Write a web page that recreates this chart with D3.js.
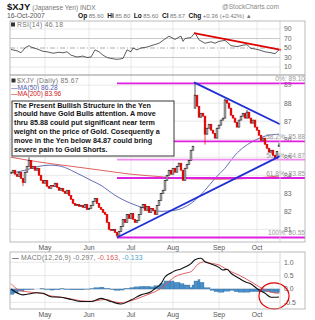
<!DOCTYPE html>
<html><head><meta charset="utf-8">
<script src="https://cdn.jsdelivr.net/npm/d3@7"></script>
<style>body{margin:0;background:#fff;} text{font-family:"Liberation Sans",Arial,sans-serif;}</style>
</head><body><svg id="c" width="315" height="320"></svg>
<script>
// ---------- DATA ----------
const startDate = "2007-04-05", endDate = "2007-10-16";
const holidays = ["2007-04-06","2007-05-28","2007-07-04","2007-09-03"];
const monthTicks = ["2007-05-01","2007-06-01","2007-07-02","2007-08-01","2007-09-04","2007-10-01"];
const monthLabels = ["May","Jun","Jul","Aug","Sep","Oct"];
// daily closes (trading day 0 .. 134)
const closes = [
84.17,84.28,84.06,83.94,84.17,83.83,83.61,84.17,84.50,84.83,
84.39,84.50,84.28,84.39,84.00,83.72,83.56,83.72,83.39,83.28,
83.44,83.39,83.56,83.33,83.17,83.28,83.11,83.00,83.17,82.89,
82.67,82.44,82.33,82.39,82.28,82.33,82.22,82.39,82.11,82.17,
82.33,82.56,82.72,82.44,82.22,82.11,81.94,81.83,81.39,81.00,
80.94,81.00,80.83,80.67,80.89,81.17,81.56,81.39,81.83,81.61,
81.89,81.56,81.39,81.50,81.83,82.22,82.39,82.06,82.28,81.94,
82.17,82.06,81.83,82.33,82.61,83.00,83.17,83.72,84.00,84.28,
84.06,84.39,84.17,84.50,84.67,84.28,83.72,84.39,84.61,84.83,
85.39,85.61,88.44,87.83,87.22,87.44,87.28,86.28,86.61,86.83,
86.50,86.33,86.06,86.61,86.78,87.06,87.17,88.17,88.00,87.72,
87.33,87.17,86.94,86.67,87.06,87.28,87.44,87.17,87.50,87.17,
86.89,87.06,86.67,86.50,86.22,85.94,86.06,85.72,85.50,85.28,
85.39,85.11,84.94,85.31,85.67];
const gapOpens = [[92,87.72],[134,85.60]];
const wickHighs = [[9,85.00],[92,89.10],[107,88.25],[118,87.62],[134,85.80]];
const wickLows = [[6,83.40],[53,80.55],[97,85.70],[134,85.60]];
const ma50 = [[0,84.11],[7,84.28],[14,84.5],[20,84.56],[25,84.5],[32,84.17],[40,83.72],[45,83.44],[52,82.89],[60,82.44],[67,82.17],[75,82.0],[82,82.06],[90,82.44],[97,83.17],[102,83.83],[107,84.39],[112,85.11],[117,85.61],[122,85.94],[127,86.17],[134,86.28]];
const ma200 = [[0,85.0],[15,84.72],[30,84.5],[45,84.28],[60,84.06],[75,83.92],[90,83.8],[105,83.78],[120,83.83],[134,83.96]];
const rsi = [[0,47],[3,44],[5,40],[7,50],[9,55],[10,52],[13,48],[16,43],[18,42],[21,39],[24,41],[26,40],[28,42],[30,35],[33,31],[36,33],[38,30],[40,31],[42,46],[44,42],[46,35],[48,30],[50,28],[53,26],[56,28],[58,46],[60,42],[61,50],[63,46],[65,50],[68,52],[71,56],[74,60],[76,66],[79,75],[82,68],[84,73],[85,75],[86,64],[87,70],[90,72],[92,82],[94,67],[97,60],[100,63],[102,60],[104,64],[107,66],[110,55],[113,53],[116,56],[118,57],[120,49],[122,48],[124,46],[127,42],[130,40],[132,38],[133,42],[134,46.18]];
const macd = [[0,0.0],[6,-0.22],[13,-0.14],[16,-0.16],[20,-0.29],[25,-0.31],[30,-0.39],[35,-0.47],[40,-0.47],[45,-0.35],[50,-0.47],[55,-0.56],[60,-0.41],[65,-0.22],[70,-0.10],[72,0.02],[75,0.2],[77,0.45],[80,0.6],[82,0.68],[85,0.75],[87,0.82],[90,0.95],[92,1.1],[95,1.15],[97,1.02],[100,0.94],[104,0.81],[106,0.71],[108,0.74],[110,0.59],[114,0.40],[117,0.27],[120,0.19],[124,-0.04],[127,-0.16],[130,-0.31],[132,-0.31],[134,-0.297]];
const signal = [[0,0.2],[4,-0.04],[10,-0.12],[15,-0.16],[20,-0.26],[25,-0.31],[30,-0.37],[35,-0.44],[40,-0.46],[45,-0.41],[48,-0.39],[51,-0.47],[55,-0.51],[60,-0.44],[65,-0.31],[70,-0.16],[72,-0.10],[75,0.03],[77,0.15],[82,0.46],[87,0.59],[90,0.65],[94,0.96],[97,1.02],[100,0.96],[104,0.9],[107,0.77],[110,0.65],[114,0.52],[117,0.4],[120,0.27],[124,0.09],[127,-0.04],[130,-0.12],[134,-0.163]];
const hist = [[0,-0.2],[2,-0.15],[4,-0.08],[7,-0.03],[10,-0.02],[12,0],[15,0.01],[17,-0.02],[20,-0.04],[22,-0.03],[25,0.01],[27,-0.02],[30,-0.03],[32,-0.03],[35,-0.03],[37,-0.01],[40,0.01],[42,0.05],[45,0.07],[47,0.02],[50,-0.02],[52,-0.05],[55,-0.04],[57,0.02],[60,0.05],[62,0.08],[65,0.1],[67,0.1],[70,0.08],[72,0.12],[75,0.2],[77,0.3],[80,0.3],[82,0.25],[85,0.2],[87,0.15],[90,0.05],[91,0.15],[92,0.3],[94,0.35],[95,0.25],[97,0.05],[100,-0.05],[102,-0.1],[104,-0.12],[107,-0.08],[110,-0.05],[112,-0.1],[114,-0.12],[117,-0.12],[120,-0.1],[122,-0.1],[124,-0.1],[127,-0.1],[130,-0.12],[132,-0.14],[134,-0.133]];
const fibLevels = [["0%",89.10],["38.2%",85.88],["50.0%",84.87],["61.8%",83.85],["100%",80.55]];
const fibStartDay = 53;
const trendLines = [[[53,80.55],[134.5,85.06]],[[91.5,89.15],[134.5,86.83]]];
const rsiTrend = [[91.5,81.5],[135,46]];
const priceTicks = [81,82,83,84,85,86,87,88,89];
const rsiTicks = [90,70,50,30,10];
const macdTicks = [1.0,0.5,0.0,-0.5];
const macdTickLabels = ["1.0","0.5","0.0","-0.5"];
const circleCenter = [131.5,-0.26];
const noteLines = ["The Present Bullish Structure in the Yen","should have Gold Bulls attention.  A move","thru 85.88 could put significant near term","weight on the price of Gold.  Cosequently a","move in the Yen below 84.87 could bring","severe pain to Gold Shorts."];

// ---------- LAYOUT ----------
const svg = d3.select("#c");
const L=10, R=280, FR=305;
const P_RSI=[21,75], P_MAIN=[75,242], P_MACD=[252,309];
const days=[];
for(let d=new Date(startDate+"T12:00:00Z"); d<=new Date(endDate+"T12:00:00Z"); d.setUTCDate(d.getUTCDate()+1)){
  const wd=d.getUTCDay(), s=d.toISOString().slice(0,10);
  if(wd>0&&wd<6&&!holidays.includes(s)) days.push(s);
}
const x = d3.scaleLinear().domain([-0.5, closes.length-0.5]).range([L,R]);
const yP = d3.scaleLinear().domain([80.3,89.56]).range([P_MAIN[1],P_MAIN[0]]);
const yR = d3.scaleLinear().domain([0,100]).range([71.75,24.25]);
const yM = d3.scaleLinear().domain([-0.749,1.386]).range([P_MACD[1],P_MACD[0]]);
const monthIdx = monthTicks.map(m=>days.indexOf(m));

const defs=svg.append("defs");
[["cr",P_RSI],["cm",P_MAIN],["cd",P_MACD]].forEach(([id,p])=>{
  defs.append("clipPath").attr("id",id).append("rect").attr("x",L).attr("y",p[0]).attr("width",R-L).attr("height",p[1]-p[0]);
});

function panel(p){
  const g=svg.append("g");
  monthIdx.forEach(i=>g.append("line").attr("x1",x(i)).attr("x2",x(i)).attr("y1",p[0]).attr("y2",p[1]).attr("stroke","#e2e2e2").attr("stroke-width",0.8));
  return g;
}
const gR=panel(P_RSI), gM=panel(P_MAIN), gD=panel(P_MACD);

// header
const hdr=svg.append("g");
let t=hdr.append("text").attr("x",7).attr("y",9.5).attr("font-size",9.5).attr("font-weight","bold").attr("fill","#111");
t.append("tspan").text("$XJY");
t.append("tspan").attr("font-size",6.6).attr("font-weight","normal").attr("fill","#777").attr("dx",2).text("(Japanese Yen) INDX");
hdr.append("text").attr("x",222).attr("y",8.5).attr("font-size",6.6).attr("fill","#888").text("@StockCharts.com");
hdr.append("text").attr("x",7).attr("y",17.5).attr("font-size",6.8).attr("fill","#555").text("16-Oct-2007");
t=hdr.append("text").attr("x",78).attr("y",17.5).attr("font-size",6.0).attr("fill","#777");
[["Op","85.60"],["Hi","85.80"],["Lo","85.60"],["Cl","85.67"],["Chg","+0.36 (+0.42%) \u25B2"]].forEach((p,k)=>{
  t.append("tspan").attr("font-weight","bold").attr("fill","#111").attr("font-size",6.6).attr("dx",k?3.5:0).text(p[0]);
  t.append("tspan").attr("dx",1.5).text(p[1]);
});

// RSI panel
rsiTicks.forEach(v=>{
  const dash = v===50 ? "5,2,1,2" : null;
  gR.append("line").attr("x1",L).attr("x2",R).attr("y1",yR(v)).attr("y2",yR(v))
    .attr("stroke", (v===70||v===30)?"#bbb":(v===50?"#999":"#e2e2e2")).attr("stroke-width",0.8).attr("stroke-dasharray",dash);
  gR.append("text").attr("x",284).attr("y",yR(v)+2.4).attr("font-size",6.8).attr("fill","#666").text(v);
});
gR.append("path").datum(rsi).attr("clip-path","url(#cr)").attr("fill","none").attr("stroke","#333").attr("stroke-width",0.8)
  .attr("d",d3.line().x(d=>x(d[0])).y(d=>yR(d[1])));
gR.append("path").datum(rsiTrend).attr("fill","none").attr("stroke","#e00000").attr("stroke-width",1.8)
  .attr("d",d3.line().x(d=>x(d[0])).y(d=>yR(d[1])));
gR.append("rect").attr("x",11).attr("y",22.5).attr("width",4).attr("height",4).attr("fill","#333");
gR.append("text").attr("x",17).attr("y",27).attr("font-size",6.8).attr("fill","#777").attr("letter-spacing",0.3).text("RSI(14) 46.18");

// MAIN panel
priceTicks.forEach(v=>{
  gM.append("line").attr("x1",L).attr("x2",R).attr("y1",yP(v)).attr("y2",yP(v)).attr("stroke","#e2e2e2").attr("stroke-width",0.8);
  gM.append("text").attr("x",284).attr("y",yP(v)+2.4).attr("font-size",6.8).attr("fill","#666").text(v);
});
// MAs
gM.append("path").datum(ma200).attr("clip-path","url(#cm)").attr("fill","none").attr("stroke","#d85050").attr("stroke-width",0.9)
  .attr("d",d3.line().curve(d3.curveMonotoneX).x(d=>x(d[0])).y(d=>yP(d[1])));
gM.append("path").datum(ma50).attr("clip-path","url(#cm)").attr("fill","none").attr("stroke","#5560b0").attr("stroke-width",0.9)
  .attr("d",d3.line().curve(d3.curveMonotoneX).x(d=>x(d[0])).y(d=>yP(d[1])));
// fib lines
fibLevels.forEach(([lab,v])=>{
  gM.append("line").attr("x1",x(fibStartDay)).attr("x2",FR).attr("y1",yP(v)).attr("y2",yP(v))
    .attr("stroke", lab==="50.0%"?"#f08cf0":"#e020e0").attr("stroke-width",1.8);
  gM.append("text").attr("x",FR).attr("y",yP(v)-2).attr("text-anchor","end").attr("font-size",6.6).attr("fill","#999").text(lab+": "+v.toFixed(2));
});
// candles
const gw=new Map(wickHighs), lw=new Map(wickLows), go=new Map(gapOpens);
const cg=gM.append("g").attr("clip-path","url(#cm)");
closes.forEach((c,i)=>{
  const prev = i>0?closes[i-1]:c;
  const o = go.has(i)?go.get(i):prev;
  const col = c>=prev ? "#111" : "#e00000";
  const hi = Math.max(o,c,gw.get(i)||-1), lo = Math.min(o,c,lw.get(i)||1e9);
  cg.append("line").attr("x1",x(i)).attr("x2",x(i)).attr("y1",yP(hi)).attr("y2",yP(lo)).attr("stroke",col).attr("stroke-width",0.7);
  const top=yP(Math.max(o,c)), h=Math.max(1,Math.abs(yP(o)-yP(c)));
  cg.append("rect").attr("x",x(i)-0.85).attr("y",top).attr("width",1.7).attr("height",h)
    .attr("fill", c<o ? col : "#fff").attr("stroke",col).attr("stroke-width",0.6);
});
// trend lines
trendLines.forEach(tl=>{
  gM.append("path").datum(tl).attr("fill","none").attr("stroke","#1f2fd6").attr("stroke-width",1.8)
    .attr("d",d3.line().x(d=>x(d[0])).y(d=>yP(d[1])));
});
// legend
gM.append("rect").attr("x",11.5).attr("y",78.5).attr("width",4).attr("height",4).attr("fill","#333");
gM.append("text").attr("x",17).attr("y",83).attr("font-size",6.8).attr("fill","#777").attr("letter-spacing",0.3).text("$XJY (Daily) 85.67");
gM.append("text").attr("x",11).attr("y",89.5).attr("font-size",6.6).attr("fill","#5560b0").text("\u2014MA(50) 86.28");
gM.append("text").attr("x",11).attr("y",95.5).attr("font-size",6.6).attr("fill","#d02020").text("\u2014MA(200) 83.96");
// note box
gM.append("rect").attr("x",12).attr("y",101).attr("width",162).attr("height",55).attr("fill","#fff").attr("stroke","#222").attr("stroke-width",0.9);
noteLines.forEach((s,k)=>gM.append("text").attr("x",14).attr("y",107.5+k*8.8).attr("font-size",7.2).attr("font-weight","bold").attr("fill","#111").text(s));
// month labels under main
monthIdx.forEach((i,k)=>{
  svg.append("text").attr("x",x(i)).attr("y",249.5).attr("text-anchor","middle").attr("font-size",6.8).attr("fill","#555").text(monthLabels[k]);
  svg.append("text").attr("x",x(i)).attr("y",316.5).attr("text-anchor","middle").attr("font-size",6.8).attr("fill","#555").text(monthLabels[k]);
});

// MACD panel
macdTicks.forEach((v,k)=>{
  gD.append("line").attr("x1",L).attr("x2",R).attr("y1",yM(v)).attr("y2",yM(v)).attr("stroke",v===0?"#ccc":"#e2e2e2").attr("stroke-width",0.8);
  gD.append("text").attr("x",284).attr("y",yM(v)+2.4).attr("font-size",6.8).attr("fill","#666").text(macdTickLabels[k]);
});
const hg=gD.append("g").attr("clip-path","url(#cd)");
hist.forEach((d,k)=>{
  const i1 = k<hist.length-1 ? hist[k+1][0] : d[0]+1;
  hg.append("rect").attr("x",x(d[0]-0.5)).attr("width",x(i1-0.5)-x(d[0]-0.5))
    .attr("y",Math.min(yM(0),yM(d[1]))).attr("height",Math.abs(yM(d[1])-yM(0)))
    .attr("fill","#4b8fc8").attr("stroke","#2d6a9e").attr("stroke-width",0.3);
});
gD.append("path").datum(signal).attr("clip-path","url(#cd)").attr("fill","none").attr("stroke","#e05050").attr("stroke-width",0.9)
  .attr("d",d3.line().curve(d3.curveMonotoneX).x(d=>x(d[0])).y(d=>yM(d[1])));
gD.append("path").datum(macd).attr("clip-path","url(#cd)").attr("fill","none").attr("stroke","#111").attr("stroke-width",1.1)
  .attr("d",d3.line().curve(d3.curveMonotoneX).x(d=>x(d[0])).y(d=>yM(d[1])));
gD.append("ellipse").attr("cx",x(circleCenter[0])).attr("cy",yM(circleCenter[1])).attr("rx",15).attr("ry",13)
  .attr("fill","none").attr("stroke","#e00000").attr("stroke-width",1.2);
t=gD.append("text").attr("x",12).attr("y",259.5).attr("font-size",6.8).attr("fill","#777").attr("letter-spacing",0.2);
t.append("tspan").attr("fill","#111").text("\u2014 ");
t.append("tspan").text("MACD(12,26,9) -0.297, ");
t.append("tspan").attr("fill","#e05050").text("-0.163");
t.append("tspan").text(", ");
t.append("tspan").attr("fill","#4b9fc8").text("-0.133");

// frames
[P_RSI,P_MAIN,P_MACD].forEach(p=>{
  svg.append("rect").attr("x",L).attr("y",p[0]).attr("width",FR-L).attr("height",p[1]-p[0]).attr("fill","none").attr("stroke","#aaa").attr("stroke-width",0.8);
  svg.append("line").attr("x1",R).attr("x2",R).attr("y1",p[0]).attr("y2",p[1]).attr("stroke","#ccc").attr("stroke-width",0.8);
});
</script></body></html>
